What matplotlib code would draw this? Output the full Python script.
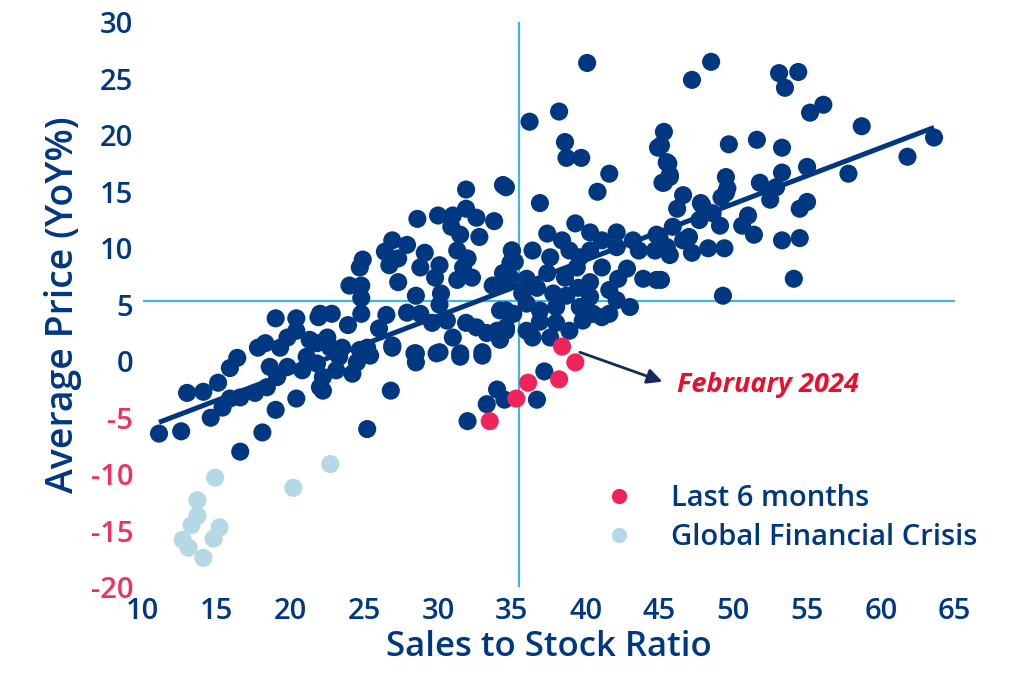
import matplotlib
matplotlib.use("Agg")
import matplotlib.pyplot as plt
from matplotlib.lines import Line2D
import numpy as np

# ---------------- data ----------------
navy_x = [
    11.1, 12.6, 14.6, 13.0, 14.1, 15.1, 15.9, 16.4, 18.1, 19.0, 20.4, 16.6, 17.8, 18.3, 19.0, 20.4,
    21.9, 15.9, 15.4, 16.6, 17.6, 18.4, 18.6, 19.1, 19.8, 19.3, 19.8, 20.4, 21.3, 21.1, 21.8, 22.2,
    22.2, 20.8, 21.8, 22.5,
    31.9, 34.6, 28.6, 30.0, 31.0, 31.9, 32.6, 33.8, 30.9, 31.5, 32.8, 31.3, 32.0, 35.0, 26.9, 27.9,
    26.4, 27.3, 29.1, 26.7, 24.9, 24.7, 28.8, 30.1, 29.8, 27.3, 24.0, 24.8, 24.8, 24.8, 28.5, 30.2,
    31.3, 32.3, 31.7, 34.4, 33.7, 34.9, 35.2, 26.5, 27.9, 28.8, 30.1, 22.0, 22.8, 23.9, 26.0, 26.9,
    28.4, 29.6, 30.6, 31.0, 31.9, 32.6, 30.1, 31.5, 33.0, 33.3, 34.0, 34.6, 34.2, 35.1, 22.5, 23.5,
    24.7, 23.3, 24.5, 25.4,
    22.0, 23.1, 24.2, 26.8, 25.2, 28.5, 28.5, 32.0, 33.3, 34.0, 34.5, 37.2, 36.7, 22.7, 25.2, 26.9,
    29.9, 31.5, 33.0,
    38.7, 39.7, 41.6, 40.8, 36.9, 34.4, 45.5, 45.7, 45.2, 46.2, 39.3, 37.4, 40.3, 42.1, 38.4, 41.1,
    43.2, 44.8, 45.9, 36.4, 35.0, 38.9, 40.3, 42.1, 43.6, 44.7, 37.6, 39.6, 34.9, 36.0, 37.4, 38.6,
    39.4, 41.1, 42.8, 43.9, 44.8, 42.2, 40.3, 39.5, 36.7, 34.5, 35.7, 37.8, 38.7, 40.3, 41.6, 42.1,
    43.0, 40.5, 39.6, 38.0, 36.9, 36.0, 34.6, 41.6, 34.6, 36.0, 36.9, 38.0, 38.9, 39.8, 41.1, 36.4,
    37.6, 34.2,
    48.5, 47.2, 53.1, 54.4, 53.5, 55.2, 56.1, 58.7, 63.6, 61.8, 57.8, 55.0, 53.3, 53.3, 51.6, 49.7,
    45.3, 45.1, 45.5, 45.7, 45.3, 46.6, 47.8, 49.5, 49.6, 49.2, 51.8, 52.9, 52.5, 55.0, 54.5, 51.0,
    50.6, 51.4, 53.3, 54.5, 54.1, 49.3, 45.1, 47.9, 48.6, 49.1, 47.7, 47.0, 47.2, 48.3, 49.4, 46.6,
    45.5, 45.7, 45.0, 49.5,
    40.1, 38.2, 36.2, 38.6, 44.9, 45.6,
]
navy_y = [
    -6.4, -6.2, -5.0, -2.8, -2.7, -1.9, -0.6, 0.3, -6.3, -4.3, -3.3, -8.0, 1.2, 1.6, 3.8, 3.8,
    3.9, -3.3, -4.1, -3.2, -2.8, -2.3, -0.5, -1.4, -0.5, 1.2, 2.1, 2.7, 1.9, 0.4, -0.2, -1.4,
    -2.6, -0.8, 1.6, 2.1,
    15.2, 15.4, 12.6, 12.9, 12.9, 13.5, 12.7, 12.4, 11.9, 11.2, 11.0, 9.8, 9.1, 9.8, 10.7, 10.3,
    9.7, 9.1, 9.6, 8.5, 9.0, 8.3, 8.3, 8.5, 7.4, 7.0, 6.7, 6.7, 5.6, 4.2, 5.8, 6.0,
    7.2, 7.4, 8.3, 7.8, 6.7, 7.4, 8.8, 4.1, 4.3, 4.2, 5.0, 4.2, 4.2, 3.2, 2.9, 1.4,
    0.7, 3.4, 3.6, 2.1, 3.4, 3.0, 0.8, 0.7, 0.8, 2.5, 2.7, 3.0, 4.5, 4.2, 1.6, 1.2,
    1.0, 0.4, -0.1, 0.5,
    -2.3, -0.8, -1.1, -2.6, -6.0, 0.7, -0.1, -5.3, -3.8, -2.5, -3.4, -0.9, -3.4, 1.2, 1.2, 1.2,
    0.7, 0.4, 0.5,
    18.0, 18.0, 16.6, 15.0, 14.0, 15.6, 17.6, 16.5, 15.8, 13.5, 12.2, 11.3, 11.4, 11.4, 10.7, 10.7,
    10.7, 11.2, 11.9, 9.8, 9.8, 9.8, 9.8, 10.1, 9.8, 9.8, 9.2, 9.2, 8.7, 7.3, 7.8, 7.4,
    8.3, 8.3, 8.2, 7.3, 7.2, 7.3, 7.0, 6.5, 6.5, 6.9, 6.0, 6.0, 5.8, 5.7, 6.3, 5.4,
    4.8, 4.2, 4.8, 4.8, 4.5, 5.1, 4.5, 4.2, 2.7, 2.7, 3.5, 3.4, 2.7, 3.6, 3.9, 2.1,
    2.1, 1.9,
    26.5, 24.9, 25.5, 25.6, 24.2, 22.0, 22.7, 20.8, 19.8, 18.1, 16.6, 17.2, 16.7, 18.9, 19.6, 19.2,
    20.3, 19.1, 17.6, 16.3, 15.8, 14.7, 14.0, 16.3, 15.3, 14.5, 15.8, 15.4, 14.3, 14.1, 13.5, 12.9,
    12.0, 11.2, 10.7, 10.9, 7.3, 5.8, 7.2, 13.8, 13.1, 12.0, 12.5, 11.0, 9.6, 10.0, 10.0, 10.7,
    10.1, 9.4, 11.0, 14.9,
    26.4, 22.1, 21.2, 19.4, 18.9, 17.5,
]

last6_x = [33.5, 35.3, 36.1, 38.2, 38.4, 39.3]
last6_y = [-5.3, -3.3, -1.9, -1.6, 1.3, -0.1]

gfc_x = [14.9, 13.7, 13.7, 13.3, 15.2, 14.8, 12.7, 13.1, 14.1, 20.2, 22.7]
gfc_y = [-10.3, -12.3, -13.7, -14.5, -14.7, -15.7, -15.8, -16.5, -17.4, -11.2, -9.1]

trend_slope = 0.497
trend_intercept = -10.92

ref_x = 35.5   # vertical reference line
ref_y = 5.3    # horizontal reference line

x_ticks = [10, 15, 20, 25, 30, 35, 40, 45, 50, 55, 60, 65]
y_ticks = [-20, -15, -10, -5, 0, 5, 10, 15, 20, 25, 30]

feb_point = (39.3, -0.1)

# ---------------- style ----------------
NAVY = "#003781"
RED = "#F0245A"
LIGHT = "#B4D8E4"
CYAN = "#41B6E6"
NEG = "#F2305E"
FONT = "Open Sans"
W = "semibold"

plt.rcParams["font.family"] = [FONT, "DejaVu Sans"]

fig = plt.figure(figsize=(10.2, 6.75), dpi=100)
ax = fig.add_axes([0.140, 0.130, 0.796, 0.837])

ax.set_xlim(10, 65)
ax.set_ylim(-20, 30)

ax.axvline(ref_x, color=CYAN, lw=1.6, zorder=1)
ax.axhline(ref_y, color=CYAN, lw=1.6, zorder=1)

S = 170
ax.scatter(navy_x, navy_y, s=S, color=NAVY, edgecolors="none", zorder=3, clip_on=False)
ax.scatter(gfc_x, gfc_y, s=S, color=LIGHT, edgecolors="none", zorder=3, clip_on=False)
ax.scatter(last6_x, last6_y, s=S, color=RED, edgecolors="none", zorder=4, clip_on=False)

tx = np.array([min(navy_x), max(navy_x)])
ax.plot(tx, trend_slope * tx + trend_intercept, color=NAVY, lw=3.6, zorder=5,
        solid_capstyle="butt")

# annotation
ax.annotate("", xy=(45.2, -1.8), xytext=(feb_point[0] + 0.3, feb_point[1] + 0.9),
            arrowprops=dict(arrowstyle="-|>,head_length=0.9,head_width=0.45",
                            color="#14295C", lw=2.0, shrinkA=0, shrinkB=0), zorder=6)
ax.text(46.2, -2.1, "February 2024", color="#E8112D", fontsize=19.5, fontweight="bold",
        fontstyle="italic", va="center", ha="left")

# ticks
ax.set_xticks(x_ticks)
ax.set_yticks(y_ticks)
ax.set_xticklabels([str(v) for v in x_ticks])
ax.set_yticklabels([str(v) for v in y_ticks])
ax.tick_params(length=0, labelsize=21, pad=7)
for lab in ax.get_xticklabels():
    lab.set_color(NAVY)
    lab.set_fontweight(W)
for lab, v in zip(ax.get_yticklabels(), y_ticks):
    lab.set_color(NEG if v < 0 else NAVY)
    lab.set_fontweight(W)

for sp in ax.spines.values():
    sp.set_visible(False)

ax.set_xlabel("Sales to Stock Ratio", fontsize=25, color=NAVY, labelpad=3, fontweight=W)
ax.set_ylabel("Average Price (YoY%)", fontsize=27, color=NAVY, labelpad=6, fontweight=W)

handles = [
    Line2D([], [], marker="o", ls="none", color=RED, markersize=11, markeredgewidth=0),
    Line2D([], [], marker="o", ls="none", color=LIGHT, markersize=11, markeredgewidth=0),
]
leg = ax.legend(handles, ["Last 6 months", "Global Financial Crisis"], loc="center left",
                bbox_to_anchor=(0.554, 0.122), frameon=False, fontsize=21,
                handletextpad=1.3, labelspacing=0.35, borderaxespad=0, handlelength=1.0)
for t in leg.get_texts():
    t.set_color(NAVY)
    t.set_fontweight(W)

fig.savefig("out.png", dpi=100, facecolor="white")
